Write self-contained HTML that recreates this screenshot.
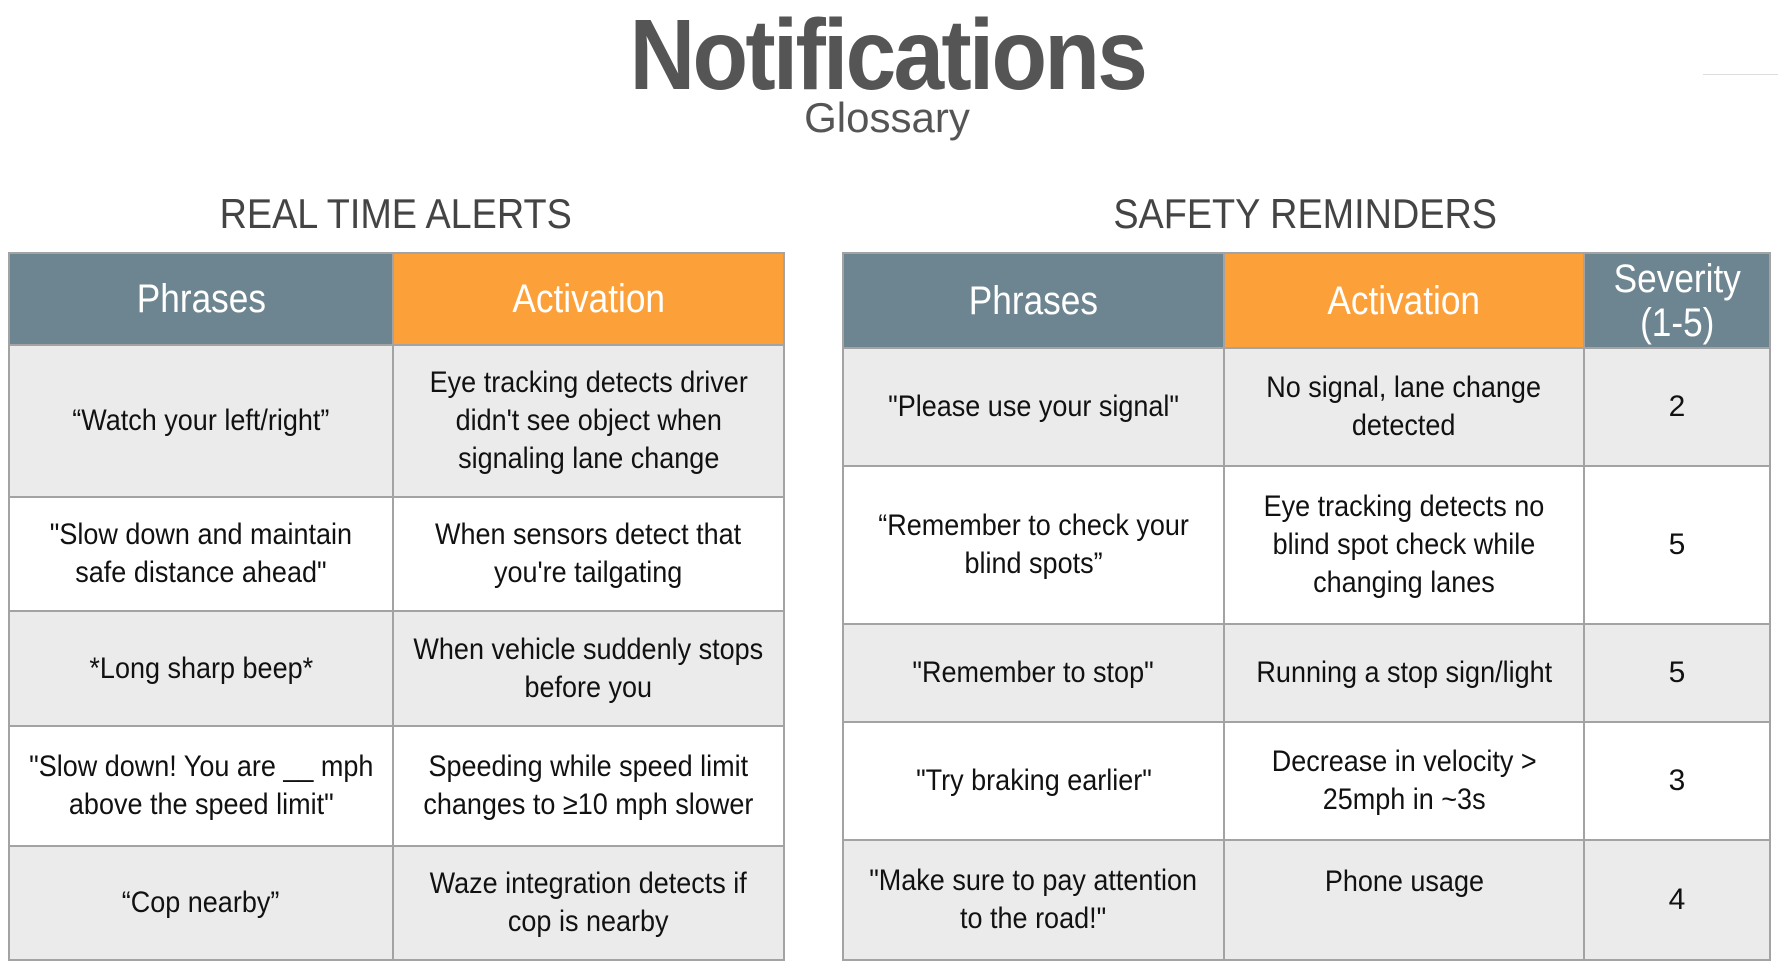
<!DOCTYPE html>
<html><head><meta charset="utf-8"><style>
body{margin:0;width:1778px;height:968px;background:#fff;position:relative;overflow:hidden;font-family:"Liberation Sans",sans-serif;color:#222}
.abs{position:absolute}
.t{text-align:center;white-space:nowrap}
table{position:absolute;border-collapse:collapse;table-layout:fixed}
td,th{border:2px solid #a3a3a3;text-align:center;vertical-align:middle;padding:0;font-weight:normal;overflow:visible}
th{color:#fff;font-size:40px;line-height:44px}
td{font-size:30px;line-height:38px;color:#111}
.s{display:inline-block;transform:scaleX(0.9);white-space:nowrap}
th .s{transform:scaleX(0.88)}
.g{background:#6d8591}.o{background:#fca03a}
tr.a td{background:#ebebeb}tr.b td{background:#fff}
</style></head><body>
<div class="abs t" style="left:0;width:1774px;top:-2px;font-size:100px;font-weight:bold;color:#555;letter-spacing:-3px"><span class="s" style="transform:scaleX(0.91)">Notifications</span></div>
<div class="abs t" style="left:0;width:1774px;top:94px;font-size:42px;color:#555">Glossary</div>
<div class="abs" style="left:1703px;top:74px;width:75px;height:1px;background:#ddd"></div>
<div class="abs t" style="left:9px;width:774px;top:190px;font-size:42px;color:#444"><span class="s" style="transform:scaleX(0.9)">REAL TIME ALERTS</span></div>
<div class="abs t" style="left:843px;width:924px;top:190px;font-size:42px;color:#444"><span class="s" style="transform:scaleX(0.9)">SAFETY REMINDERS</span></div>

<table style="left:8px;top:252px;width:775px">
<colgroup><col style="width:384px"><col style="width:391px"></colgroup>
<tr style="height:92px"><th class="g"><span class="s">Phrases</span></th><th class="o"><span class="s">Activation</span></th></tr>
<tr class="a" style="height:152px"><td><span class="s">“Watch your left/right”</span></td><td><span class="s">Eye tracking detects driver<br>didn't see object when<br>signaling lane change</span></td></tr>
<tr class="b" style="height:114px"><td><span class="s">"Slow down and maintain<br>safe distance ahead"</span></td><td><span class="s">When sensors detect that<br>you're tailgating</span></td></tr>
<tr class="a" style="height:115px"><td><span class="s">*Long sharp beep*</span></td><td><span class="s">When vehicle suddenly stops<br>before you</span></td></tr>
<tr class="b" style="height:120px"><td><span class="s">"Slow down! You are __ mph<br>above the speed limit"</span></td><td><span class="s">Speeding while speed limit<br>changes to ≥10 mph slower</span></td></tr>
<tr class="a" style="height:114px"><td><span class="s">“Cop nearby”</span></td><td><span class="s">Waze integration detects if<br>cop is nearby</span></td></tr>
</table>

<table style="left:842px;top:252px;width:927px">
<colgroup><col style="width:381px"><col style="width:360px"><col style="width:186px"></colgroup>
<tr style="height:95px"><th class="g"><span class="s">Phrases</span></th><th class="o"><span class="s">Activation</span></th><th class="g"><span class="s">Severity<br>(1-5)</span></th></tr>
<tr class="a" style="height:118px"><td><span class="s">"Please use your signal"</span></td><td><span class="s">No signal, lane change<br>detected</span></td><td>2</td></tr>
<tr class="b" style="height:158px"><td><span class="s">“Remember to check your<br>blind spots”</span></td><td><span class="s">Eye tracking detects no<br>blind spot check while<br>changing lanes</span></td><td>5</td></tr>
<tr class="a" style="height:98px"><td><span class="s">"Remember to stop"</span></td><td><span class="s">Running a stop sign/light</span></td><td>5</td></tr>
<tr class="b" style="height:118px"><td><span class="s">"Try braking earlier"</span></td><td><span class="s">Decrease in velocity &gt;<br>25mph in ~3s</span></td><td>3</td></tr>
<tr class="a" style="height:120px"><td><span class="s">"Make sure to pay attention<br>to the road!"</span></td><td style="vertical-align:top;padding-top:22px"><span class="s">Phone usage</span></td><td>4</td></tr>
</table>
</body></html>
